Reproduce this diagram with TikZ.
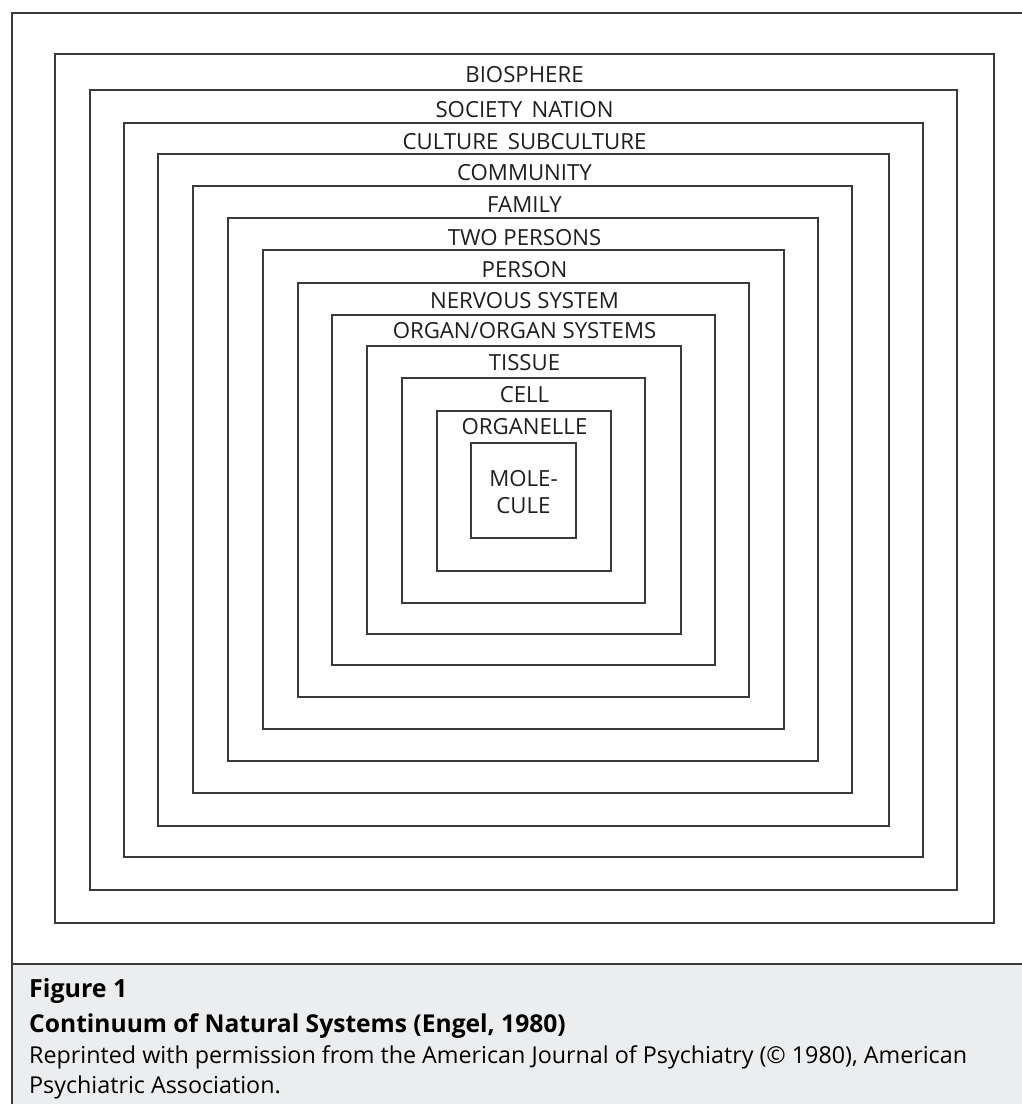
\documentclass[tikz,border=0pt]{standalone}
\usepackage{fontspec}
\setmainfont{Open Sans}
\definecolor{linegray}{HTML}{3A3A3A}
\definecolor{capbg}{HTML}{ECEDEF}
\definecolor{textdark}{HTML}{1E1E1E}
\tikzset{
  sysbox/.style={draw=linegray, line width=1.6pt},
  frameline/.style={draw=linegray, line width=2pt},
  lbl/.style={anchor=base, inner sep=0pt, text=textdark, font=\fontsize{22.2}{24}\selectfont},
  captext/.style={anchor=base west, inner sep=0pt, text=black},
}
\begin{document}
\begin{tikzpicture}[x=1pt,y=-1pt]
\useasboundingbox (0,0) rectangle (1022,1104);
\fill[white] (0,0) rectangle (1022,1104);
% caption background
\fill[capbg] (12,964) rectangle (1022,1104);
% frame
\draw[frameline] (12,1104) -- (12,13) -- (1022,13);
\draw[frameline] (12,964) -- (1022,964);
% nested boxes (left, top, right, bottom)
\foreach \l/\t/\r/\b in {55/54/994/923, 90/90/957/890, 124/123/923/857, 158/154/889/826,
  193/186/852/793, 228/218/818/761, 263/250/784/729, 298/283/749/697, 332/315/715/665,
  367/346/681/634, 402/378/645/603, 437/411/611/571, 471/443/576/538}
  \draw[sysbox] (\l,\t) rectangle (\r,\b);
% labels
\node[lbl] (bio) at (524.5,82.5) {BIOSPHERE};
\node[lbl] (soc) at (524.5,117.5) {SOCIETY\, NATION};
\node[lbl] (cul) at (524.5,149.5) {CULTURE\, SUBCULTURE};
\node[lbl] (com) at (524.5,180) {COMMUNITY};
\node[lbl] (fam) at (524.5,212.5) {FAMILY};
\node[lbl] (two) at (524.5,245.5) {TWO PERSONS};
\node[lbl] (per) at (524.5,277.5) {PERSON};
\node[lbl] (ner) at (524.5,308.5) {NERVOUS SYSTEM};
\node[lbl] (org) at (524.5,338.5) {ORGAN/ORGAN SYSTEMS};
\node[lbl] (tis) at (524.5,370.5) {TISSUE};
\node[lbl] (cel) at (524.5,402.5) {CELL};
\node[lbl] (ole) at (524.5,434.5) {ORGANELLE};
\node[lbl] (mol1) at (523.5,486) {MOLE-};
\node[lbl] (mol2) at (523.5,513) {CULE};
% caption
\node[captext, font=\fontsize{25}{28}\selectfont\bfseries] (fig) at (29,997.5) {Figure 1};
\node[captext, font=\fontsize{24.6}{28}\selectfont\bfseries] (tit) at (29,1032) {Continuum of Natural Systems (Engel, 1980)};
\node[captext, font=\fontsize{23.3}{26}\selectfont] (rep1) at (29,1063.5) {Reprinted with permission from the American Journal of Psychiatry (\textcopyright{} 1980), American};
\node[captext, font=\fontsize{23.3}{26}\selectfont] (rep2) at (29,1093.5) {Psychiatric Association.};
\end{tikzpicture}
\end{document}
